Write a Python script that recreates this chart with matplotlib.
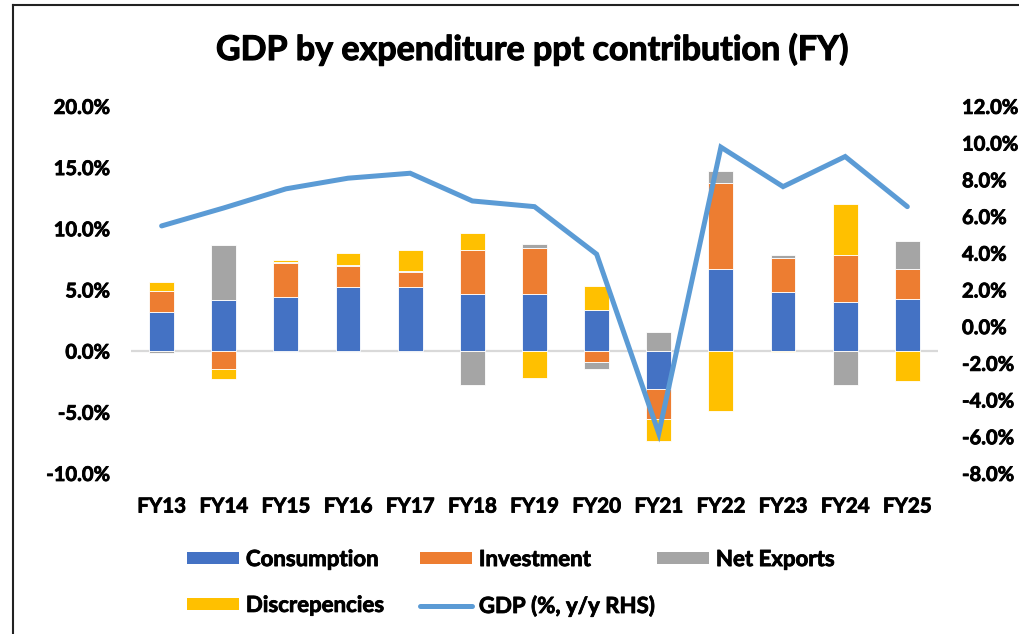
import numpy as np
import matplotlib
matplotlib.use('Agg')
import matplotlib.pyplot as plt
import matplotlib.patheffects as pe
from matplotlib.patches import Patch
from matplotlib.lines import Line2D
from matplotlib.ticker import FuncFormatter, MultipleLocator

plt.rcParams['font.family'] = ['Lato', 'DejaVu Sans']
plt.rcParams['font.weight'] = 'bold'

years = ['FY13', 'FY14', 'FY15', 'FY16', 'FY17', 'FY18', 'FY19',
         'FY20', 'FY21', 'FY22', 'FY23', 'FY24', 'FY25']
consumption = [3.13, 4.14, 4.36, 5.18, 5.18, 4.66, 4.60, 3.30, -3.10, 6.68, 4.77, 4.00, 4.22]
investment = [1.72, -1.47, 2.78, 1.72, 1.22, 3.57, 3.80, -0.93, -2.46, 7.00, 2.78, 3.79, 2.46]
net_exports = [-0.20, 4.53, 0.14, 0.10, 0.11, -2.81, 0.29, -0.54, 1.53, 0.96, 0.24, -2.80, 2.31]
discrepancies = [0.79, -0.82, 0.13, 1.00, 1.75, 1.36, -2.26, 1.99, -1.80, -4.90, -0.14, 4.21, -2.51]
gdp = [5.46, 6.44, 7.48, 8.06, 8.33, 6.82, 6.51, 3.92, -5.84, 9.75, 7.60, 9.24, 6.51]

series = [('Consumption', consumption, '#4472C4'),
          ('Investment', investment, '#ED7D31'),
          ('Net Exports', net_exports, '#A5A5A5'),
          ('Discrepencies', discrepancies, '#FFC000')]

# slightly heavier text, closer to the original's bold face
heavy = [pe.withStroke(linewidth=0.6, foreground='black')]

fig = plt.figure(figsize=(10.2, 6.34), dpi=100)
ax = fig.add_axes([0.128, 0.254, 0.792, 0.579])
ax2 = ax.twinx()

x = np.arange(len(years))
pos_bottom = np.zeros(len(years))
neg_bottom = np.zeros(len(years))
handles = []
for name, vals, col in series:
    v = np.array(vals)
    bottom = np.where(v >= 0, pos_bottom, neg_bottom)
    ax.bar(x, v, 0.4, bottom=bottom, color=col, edgecolor='white', linewidth=0.6, zorder=3)
    pos_bottom = pos_bottom + np.where(v >= 0, v, 0)
    neg_bottom = neg_bottom + np.where(v < 0, v, 0)
    handles.append(Patch(facecolor=col, label=name))

ax.axhline(0, color='#D9D9D9', linewidth=1.6, zorder=2)

ax2.plot(x, gdp, color='#5B9BD5', linewidth=3.6, solid_capstyle='round',
         solid_joinstyle='miter', zorder=5)
handles.append(Line2D([0], [0], color='#5B9BD5', linewidth=3.6,
                      solid_capstyle='round', label='GDP (%, y/y RHS)'))

ax.set_xlim(-0.5, len(years) - 0.5)
ax.set_ylim(-10, 20)
ax2.set_ylim(-8, 12)
ax.yaxis.set_major_locator(MultipleLocator(5))
ax2.yaxis.set_major_locator(MultipleLocator(2))
fmt = FuncFormatter(lambda v, p: f'{v:.1f}%')
ax.yaxis.set_major_formatter(fmt)
ax2.yaxis.set_major_formatter(fmt)
ax.set_xticks(x)
ax.set_xticklabels(years)

for a in (ax, ax2):
    for s in a.spines.values():
        s.set_visible(False)
    a.tick_params(length=0, labelsize=14.5)
ax.tick_params(axis='y', pad=15)
ax2.tick_params(axis='y', pad=17)
ax.tick_params(axis='x', pad=17, labelsize=14.8)
for lab in ax.get_xticklabels() + ax.get_yticklabels() + ax2.get_yticklabels():
    lab.set_path_effects(heavy)

fig.text(0.522, 0.922, 'GDP by expenditure ppt contribution (FY)',
         ha='center', va='center', fontsize=24.5, fontweight='bold',
         path_effects=[pe.withStroke(linewidth=0.8, foreground='black')])

# legend laid out in three equal-width columns, like the original
columns = [[0, 3], [1, 4], [2]]
col_x = [187 / 1020, 420 / 1020, 657 / 1020]
for idx, cx in zip(columns, col_x):
    lg = fig.legend([handles[i] for i in idx], [handles[i].get_label() for i in idx],
                    loc='upper left', bbox_to_anchor=(cx, 0.134),
                    frameon=False, fontsize=16, handlelength=2.35, handleheight=0.5,
                    handletextpad=0.3, labelspacing=1.12,
                    borderaxespad=0, borderpad=0)
    for t in lg.get_texts():
        t.set_path_effects(heavy)

# outer frame of the chart box
fig.add_artist(Line2D([0.0127, 0.0127], [0, 0.992], color='#222222', linewidth=1.5,
                      transform=fig.transFigure))
fig.add_artist(Line2D([0.0127, 1.0], [0.992, 0.992], color='#222222', linewidth=1.5,
                      transform=fig.transFigure))

fig.savefig('out.png', dpi=100)
